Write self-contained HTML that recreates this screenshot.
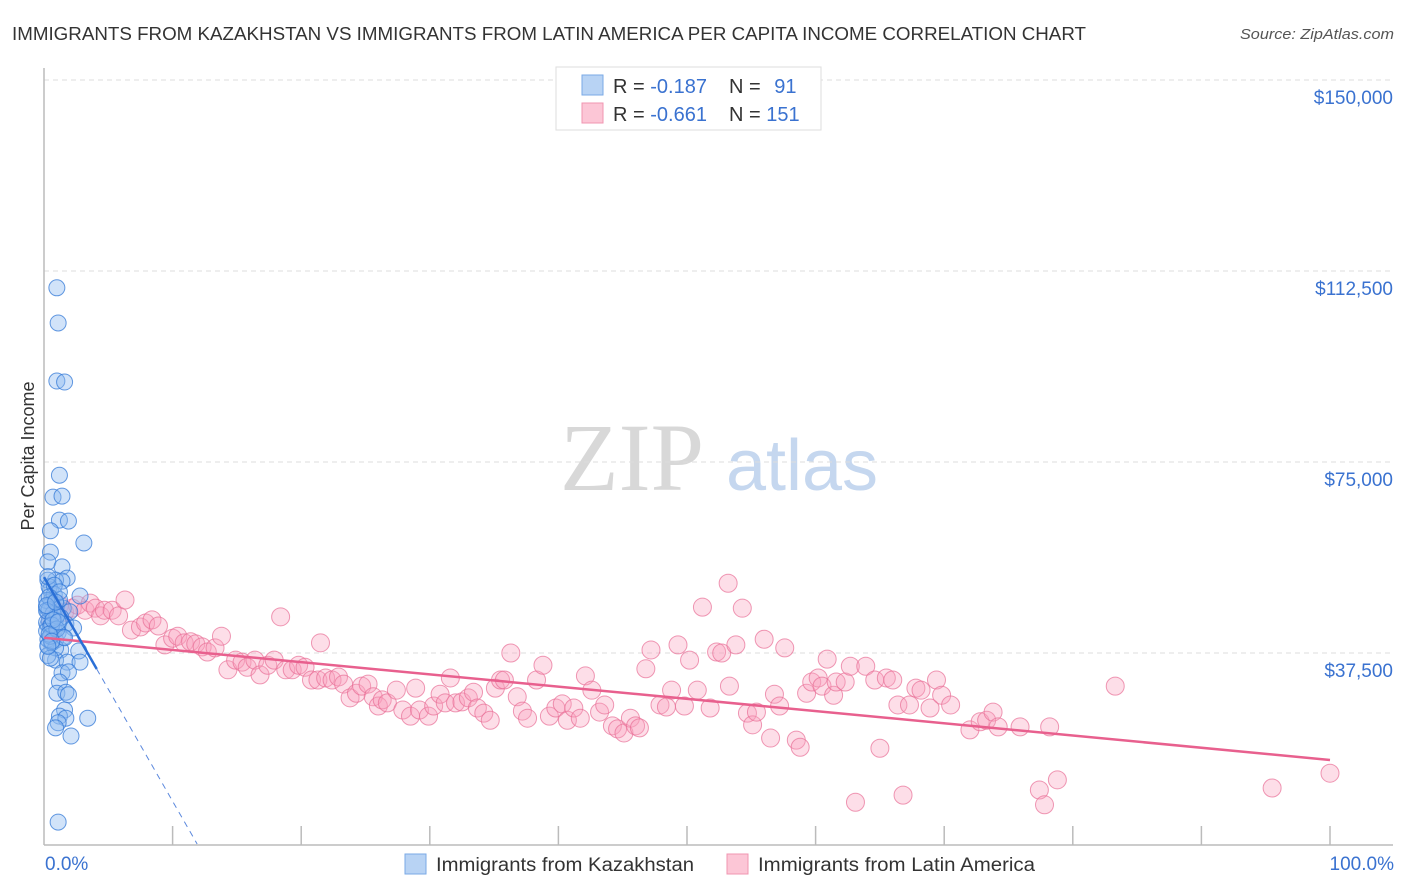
<!DOCTYPE html>
<html><head><meta charset="utf-8"><style>
body{margin:0;background:#fff;font-family:"Liberation Sans",sans-serif;}
svg{display:block}
</style></head><body>
<svg id="c" width="1406" height="892" viewBox="0 0 1406 892" xmlns="http://www.w3.org/2000/svg">
<text x="12" y="40" font-size="18" fill="#333" textLength="1074" lengthAdjust="spacingAndGlyphs">IMMIGRANTS FROM KAZAKHSTAN VS IMMIGRANTS FROM LATIN AMERICA PER CAPITA INCOME CORRELATION CHART</text>
<text x="1394" y="39" font-size="15" fill="#555" font-style="italic" text-anchor="end" textLength="154" lengthAdjust="spacingAndGlyphs">Source: ZipAtlas.com</text>
<text x="34" y="456" font-size="18" fill="#333" transform="rotate(-90 34 456)" text-anchor="middle">Per Capita Income</text>
<g>
<text x="632" y="490" font-size="96" fill="#d8d8d8" font-family="Liberation Serif,serif" text-anchor="middle">ZIP</text>
<text x="802" y="490" font-size="72" fill="#c5d7ef" text-anchor="middle">atlas</text>
</g>
<g id="grid"></g><g id="axes"></g><g id="pts"></g><g id="trend"></g>
<g>
<rect x="556" y="67" width="265" height="63" fill="#fff" stroke="#ddd"/>
<rect x="582" y="75" width="21" height="20" fill="#b8d3f4" stroke="#7aaae6"/>
<rect x="582" y="103" width="21" height="20" fill="#fcc6d6" stroke="#f095b0"/>
<text x="613" y="93" font-size="20" fill="#333">R = <tspan fill="#3a72d0">-0.187</tspan></text>
<text x="729" y="93" font-size="20" fill="#333">N = <tspan fill="#3a72d0" dx="8">91</tspan></text>
<text x="613" y="121" font-size="20" fill="#333">R = <tspan fill="#3a72d0">-0.661</tspan></text>
<text x="729" y="121" font-size="20" fill="#333">N = <tspan fill="#3a72d0">151</tspan></text>
</g>
<g>
<rect x="405" y="854" width="21" height="20" fill="#b8d3f4" stroke="#7aaae6"/>
<text x="436" y="871" font-size="19" fill="#333" textLength="258" lengthAdjust="spacingAndGlyphs">Immigrants from Kazakhstan</text>
<rect x="727" y="854" width="21" height="20" fill="#fcc6d6" stroke="#f095b0"/>
<text x="758" y="871" font-size="19" fill="#333" textLength="277" lengthAdjust="spacingAndGlyphs">Immigrants from Latin America</text>
</g>
</svg>
<script>
const yTicks=[37.5,75,112.5,150];
const yTickLabels=["$37,500","$75,000","$112,500","$150,000"];
const xTickLabels=["0.0%","100.0%"];
const blueX=[1.0,1.1,1.0,1.6,1.2,0.7,1.4,1.2,1.9,3.1,0.5,0.5,0.3,1.4,1.8,0.9,1.4,0.3,0.5,2.8,0.6,1.0,1.5,0.3,2.0,0.9,0.3,1.7,2.3,0.6,0.9,0.3,1.3,2.7,0.9,1.8,2.8,1.4,1.9,1.2,1.0,1.7,1.9,1.6,1.2,1.7,3.4,1.1,0.9,2.1,1.1,0.4,0.8,1.2,0.6,0.2,1.0,1.3,0.7,0.4,0.2,0.5,0.8,1.1,1.5,0.3,0.6,0.9,0.2,0.4,0.7,1.0,0.2,0.5,0.3,0.8,1.2,0.4,0.2,0.6,1.0,0.3,0.5,0.7,0.2,0.9,0.4,1.6,0.6,0.3,1.1];
const blueY=[109.2,102.3,90.9,90.7,72.4,68.1,68.3,63.6,63.4,59.1,61.5,57.3,55.4,54.4,52.2,51.8,51.6,51.8,49.9,48.7,47.9,46.9,46.3,45.6,45.6,44.0,43.0,43.2,42.4,41.0,40.0,39.0,38.1,37.9,36.1,35.7,35.7,33.6,33.8,31.8,29.6,29.8,29.3,26.3,25.1,24.7,24.7,23.8,22.8,21.2,4.3,50.5,49.0,48.0,47.2,46.5,45.0,44.5,44.2,43.8,43.5,42.8,42.0,41.5,40.6,40.2,39.5,38.5,47.8,46.0,45.2,44.8,41.8,40.8,52.5,50.8,49.5,48.5,45.8,43.0,42.2,37.0,36.5,44.0,46.8,47.5,41.2,40.5,39.8,38.8,43.6];
const pinkX=[0.5,0.9,1.2,1.6,2.2,2.6,3.2,3.6,4.0,4.4,4.7,5.3,5.8,6.3,6.8,7.5,7.9,8.4,8.9,9.4,10.0,10.4,10.9,11.4,11.8,12.3,12.7,13.3,13.8,14.3,14.9,15.4,15.8,16.4,16.8,17.4,17.9,18.4,18.8,19.3,19.8,20.3,20.8,21.3,21.5,21.9,22.4,22.9,23.3,23.8,24.3,24.7,25.2,25.6,26.0,26.3,26.7,27.4,27.9,28.5,28.9,29.2,29.9,30.3,30.8,31.2,31.6,32.0,32.5,33.0,33.4,33.7,34.2,34.7,35.1,35.5,35.8,36.3,36.8,37.2,37.6,38.3,38.8,39.3,39.8,40.3,40.7,41.2,41.7,42.1,42.6,43.2,43.6,44.2,44.6,45.1,45.6,46.0,46.3,46.8,47.2,47.9,48.4,48.8,49.3,49.8,50.2,50.8,51.2,51.8,52.3,52.7,53.2,53.3,53.8,54.3,54.7,55.1,55.4,56.0,56.5,56.8,57.2,57.6,58.5,58.8,59.3,59.7,60.2,60.5,60.9,61.4,61.6,62.3,62.7,63.1,63.9,64.6,65.0,65.5,66.0,66.4,66.8,67.3,67.8,68.2,68.9,69.4,69.8,70.5,72.0,72.8,73.3,73.8,74.2,75.9,77.4,77.8,78.2,78.8,83.3,95.5,100];
const pinkY=[44.0,45.9,46.9,45.5,46.3,46.9,45.9,47.3,46.3,44.8,45.9,45.9,44.8,47.9,42.0,42.6,43.4,44.0,42.8,39.1,40.4,40.8,39.5,39.7,39.3,38.7,37.7,38.5,40.8,34.2,36.1,35.7,34.7,36.1,33.2,35.1,36.1,44.6,34.2,34.2,35.1,34.7,32.2,32.2,39.5,32.6,32.2,32.8,31.4,28.7,29.6,31.0,31.4,28.9,27.1,28.3,27.7,30.2,26.3,25.1,30.6,26.3,25.1,27.1,29.4,27.7,32.6,27.7,27.9,28.7,29.8,26.7,25.7,24.3,30.6,32.2,32.2,37.5,28.9,26.1,24.7,32.2,35.1,25.1,26.7,27.5,24.3,26.7,24.7,33.0,30.2,25.9,27.3,23.2,22.6,21.8,24.7,23.2,22.8,34.4,38.1,27.3,26.9,30.2,39.1,27.1,36.1,30.2,46.5,26.7,37.7,37.5,51.2,31.0,39.1,46.3,25.7,23.4,25.9,40.2,20.8,29.4,27.1,38.5,20.4,19.0,29.6,31.8,32.6,31.0,36.3,29.2,31.8,31.8,34.9,8.2,34.9,32.2,18.8,32.6,32.2,27.3,9.6,27.3,30.6,30.2,26.7,32.2,29.2,27.3,22.4,24.0,24.3,25.9,23.0,23.0,10.6,7.7,23.0,12.6,31.0,11.0,13.9];
const blueTrend=[52.4,-4.4];
const blueSolidEnd=4.1;
const pinkTrend=[40.5,-0.24];

const NS="http://www.w3.org/2000/svg";
const X=v=>44+v*12.86;
const Y=v=>844-v*191/37.5;
function mk(tag,attrs,parent){const e=document.createElementNS(NS,tag);for(const k in attrs)e.setAttribute(k,attrs[k]);document.getElementById(parent).appendChild(e);return e;}

yTicks.forEach((t,i)=>{
  const l=mk('line',{x1:44,x2:1393,y1:Y(t),y2:Y(t),stroke:'#ddd','stroke-dasharray':'5,4'},'grid');
  
  
  const tx=mk('text',{x:1393,y:Y(t)+24,'font-size':19,fill:'#3a72d0','text-anchor':'end'},'grid');
  tx.textContent=yTickLabels[i];
  
  
});
const ya=mk('line',{x1:44,x2:44,y1:68,y2:845,stroke:'#bbb','stroke-width':1.5},'axes');


const xa=mk('line',{x1:44,x2:1393,y1:845,y2:845,stroke:'#bbb','stroke-width':1.5},'axes');


for(let i=1;i<=10;i++){
  const tk=mk('line',{x1:X(i*10),x2:X(i*10),y1:826,y2:845,stroke:'#bbb','stroke-width':1.5},'axes');
  
  
}
const xl0=mk('text',{x:45,y:870,'font-size':19,fill:'#3a72d0'},'axes');xl0.textContent=xTickLabels[0];


const xl1=mk('text',{x:1394,y:870,'font-size':19,fill:'#3a72d0','text-anchor':'end'},'axes');xl1.textContent=xTickLabels[1];



pinkX.forEach((x,i)=>{
  const c=mk('circle',{cx:X(x),cy:Y(pinkY[i]),r:9,fill:'rgba(248,160,188,0.35)',stroke:'rgba(232,110,150,0.7)','stroke-width':1},'pts');
  
  
});
blueX.forEach((x,i)=>{
  const c=mk('circle',{cx:X(x),cy:Y(blueY[i]),r:8,fill:'rgba(140,185,240,0.4)',stroke:'rgba(50,120,215,0.75)','stroke-width':1},'pts');
  
  
});
const pl=mk('line',{x1:X(0),y1:Y(pinkTrend[0]),x2:X(100),y2:Y(pinkTrend[0]+pinkTrend[1]*100),stroke:'#e8608e','stroke-width':2.5},'trend');


const bs=mk('line',{x1:X(0),y1:Y(blueTrend[0]),x2:X(blueSolidEnd),y2:Y(blueTrend[0]+blueTrend[1]*blueSolidEnd),stroke:'#2a6fd6','stroke-width':2.5},'trend');


const xEnd=-blueTrend[0]/blueTrend[1];
const bd=mk('line',{x1:X(blueSolidEnd),y1:Y(blueTrend[0]+blueTrend[1]*blueSolidEnd),x2:X(xEnd),y2:Y(0),stroke:'#5b88dd','stroke-width':1,'stroke-dasharray':'6,5'},'trend');


</script>
</body></html>
